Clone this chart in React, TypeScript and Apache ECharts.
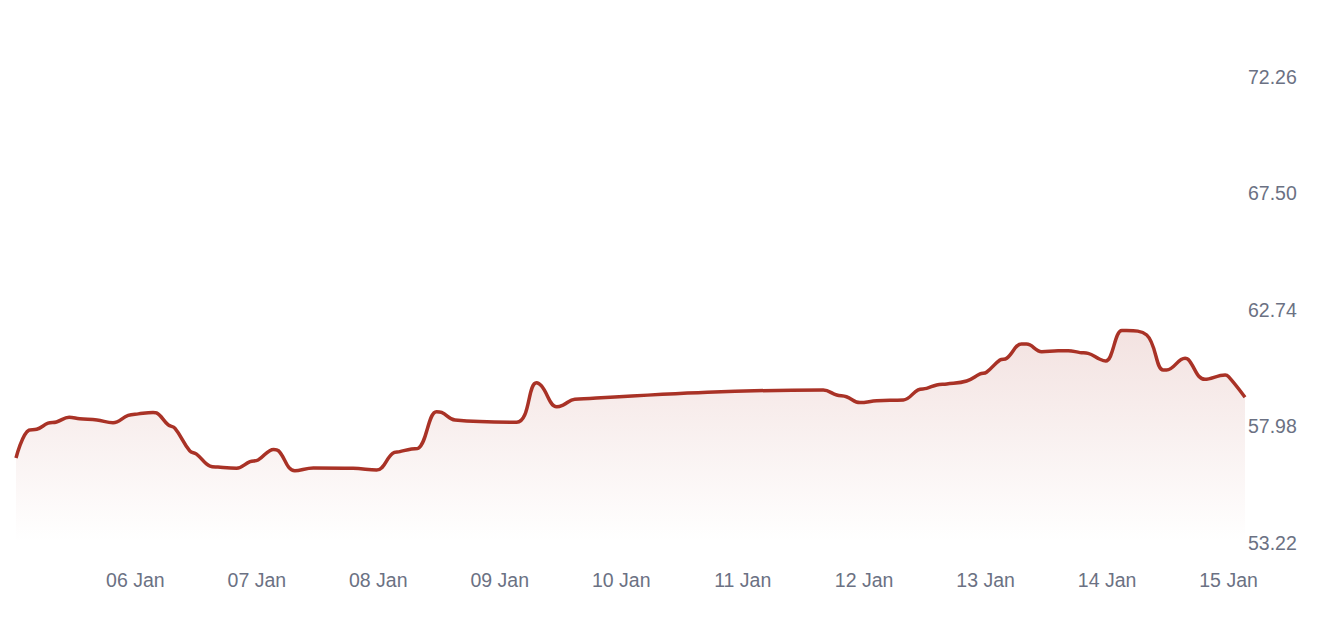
import React, { useEffect, useRef } from "react";
import * as echarts from "echarts";

const times: string[] = [
  "2026-01-05 00:25", "2026-01-05 03:00", "2026-01-05 04:30", "2026-01-05 06:45", "2026-01-05 08:25",
  "2026-01-05 10:55", "2026-01-05 13:00", "2026-01-05 16:25", "2026-01-05 19:35", "2026-01-05 22:35",
  "2026-01-06 00:35", "2026-01-06 03:30", "2026-01-06 04:10", "2026-01-06 06:30", "2026-01-06 07:50",
  "2026-01-06 10:45", "2026-01-06 12:05", "2026-01-06 14:45", "2026-01-06 16:20", "2026-01-06 20:00",
  "2026-01-06 22:40", "2026-01-07 00:15", "2026-01-07 03:20", "2026-01-07 04:15", "2026-01-07 07:30",
  "2026-01-07 11:10", "2026-01-07 19:00", "2026-01-07 23:40", "2026-01-08 02:50", "2026-01-08 04:15",
  "2026-01-08 06:35", "2026-01-08 07:55", "2026-01-08 11:30", "2026-01-08 12:30", "2026-01-08 15:10",
  "2026-01-09 03:20", "2026-01-09 07:15", "2026-01-09 08:15", "2026-01-09 11:15", "2026-01-09 12:30",
  "2026-01-09 14:50", "2026-01-11 15:55", "2026-01-11 18:35", "2026-01-11 20:30", "2026-01-11 23:10",
  "2026-01-12 02:30", "2026-01-12 07:45", "2026-01-12 10:40", "2026-01-12 12:20", "2026-01-12 14:20",
  "2026-01-12 16:20", "2026-01-12 20:15", "2026-01-12 22:55", "2026-01-13 00:10", "2026-01-13 02:50",
  "2026-01-13 04:10", "2026-01-13 07:05", "2026-01-13 08:05", "2026-01-13 11:05", "2026-01-13 14:20",
  "2026-01-13 16:20", "2026-01-13 18:40", "2026-01-13 20:15", "2026-01-13 22:35", "2026-01-13 23:45",
  "2026-01-14 02:55", "2026-01-14 03:50", "2026-01-14 07:50", "2026-01-14 11:05", "2026-01-14 11:45",
  "2026-01-14 15:25", "2026-01-14 16:00", "2026-01-14 19:20", "2026-01-14 23:20", "2026-01-15 00:00",
  "2026-01-15 03:15",
];

const prices: number[] = [
  56.69, 57.83, 57.86, 58.11, 58.16,
  58.35, 58.29, 58.24, 58.13, 58.43,
  58.49, 58.55, 58.53, 58.04, 57.9,
  56.98, 56.85, 56.36, 56.32, 56.27,
  56.54, 56.61, 57.04, 56.99, 56.17,
  56.28, 56.27, 56.2, 56.88, 56.95,
  57.06, 57.09, 58.58, 58.55, 58.24,
  58.15, 59.76, 59.63, 58.78, 58.85,
  59.09, 59.46, 59.26, 59.19, 58.95,
  59.03, 59.06, 59.47, 59.53, 59.67,
  59.71, 59.83, 60.12, 60.19, 60.69,
  60.76, 61.34, 61.34, 61.03, 61.07,
  61.07, 60.99, 60.96, 60.72, 60.65,
  61.89, 61.89, 61.71, 60.28, 60.28,
  60.76, 60.72, 59.9, 60.08, 60.01,
  59.17,
];

const yTicks: number[] = [53.22, 57.98, 62.74, 67.5, 72.26];
const monthNames: string[] = ["Jan", "Feb", "Mar", "Apr", "May", "Jun", "Jul", "Aug", "Sep", "Oct", "Nov", "Dec"];

export default function App() {
  const ref = useRef<HTMLDivElement>(null);

  useEffect(() => {
    document.body.style.margin = "0";
    if (!ref.current) return;
    const chart = echarts.init(ref.current, undefined, { renderer: "svg" });
    const labelColor = "#6B7183";
    const font = "'Liberation Sans', Arial, Helvetica, sans-serif";
    chart.setOption({
      animation: false,
      backgroundColor: "#ffffff",
      grid: { left: 16, right: 75, top: 76.5, bottom: 87 },
      xAxis: {
        type: "time",
        min: "dataMin",
        max: "dataMax",
        minInterval: 86400000,
        maxInterval: 86400000,
        axisLine: { show: false },
        axisTick: { show: false },
        splitLine: { show: false },
        axisLabel: {
          color: labelColor,
          fontSize: 19.5,
          fontFamily: font,
          margin: 27,
          hideOverlap: false,
          formatter: (val: number) => {
            const d = new Date(val);
            const dd = String(d.getDate()).padStart(2, "0");
            return dd + " " + monthNames[d.getMonth()];
          },
        },
      },
      yAxis: {
        type: "value",
        position: "right",
        min: yTicks[0],
        max: yTicks[yTicks.length - 1],
        axisLine: { show: false },
        axisTick: { show: false },
        splitLine: { show: false },
        axisLabel: {
          color: labelColor,
          fontSize: 19.5,
          fontFamily: font,
          margin: 3,
          customValues: yTicks,
          formatter: (v: number) => v.toFixed(2),
        },
      },
      series: [
        {
          type: "line",
          data: times.map((t, i) => [t, prices[i]]),
          smooth: 0.4,
          showSymbol: false,
          symbol: "none",
          lineStyle: { color: "#A93226", width: 3.5 },
          itemStyle: { color: "#A93226" },
          areaStyle: {
            color: new echarts.graphic.LinearGradient(0, 0, 0, 1, [
              { offset: 0, color: "rgba(169,50,38,0.2)" },
              { offset: 1, color: "rgba(169,50,38,0)" },
            ]),
          },
        },
      ],
    });
    return () => chart.dispose();
  }, []);

  return <div ref={ref} style={{ width: 1320, height: 630 }} />;
}
